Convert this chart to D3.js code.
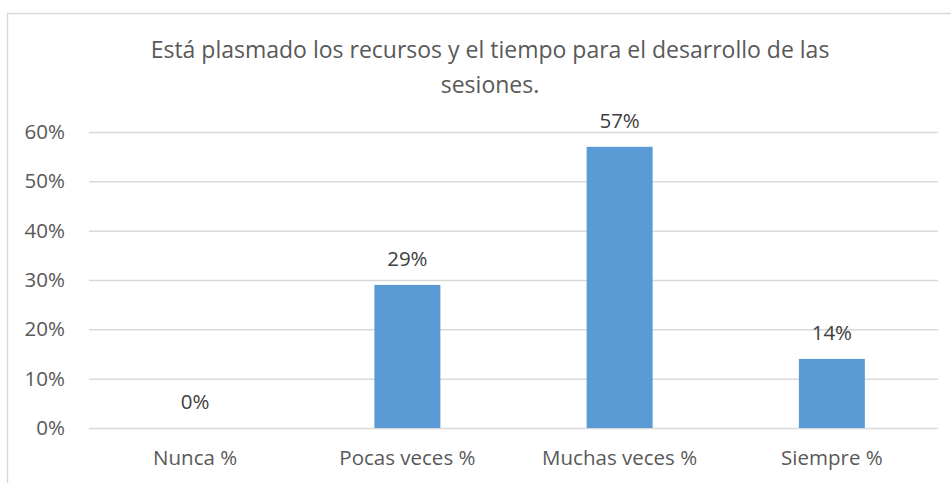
<!DOCTYPE html>
<html>
<head>
<meta charset="utf-8">
<script src="https://cdn.jsdelivr.net/npm/d3@7"></script>
<style>
  html, body { margin: 0; padding: 0; background: #fff; }
  svg { display: block; }
  text { font-family: "Open Sans", "Liberation Sans", sans-serif; fill: #595959; }
</style>
</head>
<body>
<svg id="chart" width="951" height="483"></svg>
<script>
// Chart data
const categories = ["Nunca %", "Pocas veces %", "Muchas veces %", "Siempre %"];
const values = [0, 29, 57, 14];
const yTicks = [0, 10, 20, 30, 40, 50, 60];
const titleLines = ["Está plasmado los recursos y el tiempo para el desarrollo de las", "sesiones."];

const svg = d3.select("#chart");
const W = 951, H = 483;

// Chart frame
svg.append("rect")
  .attr("x", 7.5).attr("y", 13.5)
  .attr("width", W + 10).attr("height", H + 10)
  .attr("fill", "#fff").attr("stroke", "#d9d9d9").attr("stroke-width", 1.5);

const plot = { left: 89, right: 938, top: 132, bottom: 428 };
const fs = 20.5;

const x = d3.scaleBand().domain(categories).range([plot.left, plot.right]).padding(0);
const y = d3.scaleLinear().domain([0, 60]).range([plot.bottom, plot.top]);

// Gridlines and y labels
const yAxis = d3.axisLeft(y).tickValues(yTicks)
  .tickFormat(d => d + "%")
  .tickSize(-(plot.right - plot.left)).tickPadding(24);
const gy = svg.append("g").attr("transform", `translate(${plot.left},0)`).call(yAxis);
gy.select(".domain").remove();
gy.selectAll(".tick line").attr("stroke", "#d9d9d9").attr("stroke-width", 1.5);
gy.selectAll(".tick text").attr("font-size", fs).attr("fill", "#595959")
  .style("font-family", '"Open Sans", sans-serif');

// Bars
const barW = 66;
svg.append("g").selectAll("rect").data(values).join("rect")
  .attr("x", (d, i) => x(categories[i]) + x.bandwidth() / 2 - barW / 2)
  .attr("width", barW)
  .attr("y", d => y(d))
  .attr("height", d => y(0) - y(d))
  .attr("fill", "#5b9bd5");

// Value labels
svg.append("g").selectAll("text").data(values).join("text")
  .attr("x", (d, i) => x(categories[i]) + x.bandwidth() / 2)
  .attr("y", d => y(d) - 19)
  .attr("text-anchor", "middle")
  .attr("font-size", fs)
  .style("fill", "#404040")
  .text(d => d + "%");

// Category labels
svg.append("g").selectAll("text").data(categories).join("text")
  .attr("x", d => x(d) + x.bandwidth() / 2)
  .attr("y", 465)
  .attr("text-anchor", "middle")
  .attr("font-size", fs)
  .text(d => d);

// Title
svg.append("g").selectAll("text").data(titleLines).join("text")
  .attr("x", 490)
  .attr("y", (d, i) => 58 + i * 35)
  .attr("text-anchor", "middle")
  .attr("font-size", 23)
  .text(d => d);
</script>
</body>
</html>
